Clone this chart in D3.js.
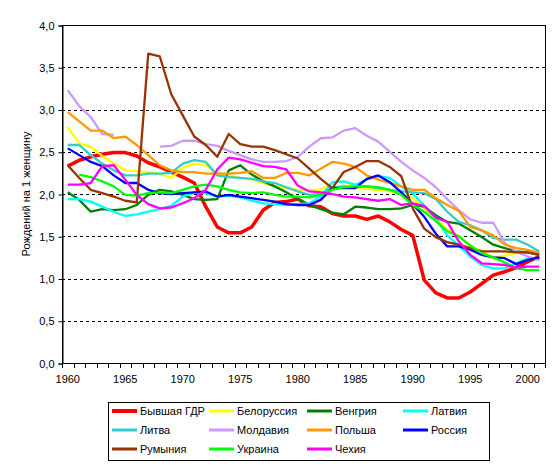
<!DOCTYPE html>
<html><head><meta charset="utf-8">
<script src="https://cdn.jsdelivr.net/npm/d3@7"></script>
<style>
body{margin:0;background:#fff;}
text{font-family:"Liberation Sans",Arial,sans-serif;font-size:11px;fill:#000;}
</style></head>
<body><svg id="c" width="560" height="469"></svg>
<script>
const years = [1960,1961,1962,1963,1964,1965,1966,1967,1968,1969,1970,1971,1972,1973,1974,1975,1976,1977,1978,1979,1980,1981,1982,1983,1984,1985,1986,1987,1988,1989,1990,1991,1992,1993,1994,1995,1996,1997,1998,1999,2000,2001];
const xLabels = [1960,1965,1970,1975,1980,1985,1990,1995,2000];
const yTicks = [0,0.5,1,1.5,2,2.5,3,3.5,4];
const seriesNames = ["Бывшая ГДР","Белоруссия","Венгрия","Латвия","Литва","Молдавия","Польша","Россия","Румыния","Украина","Чехия"];
const seriesColors = ["#FF0000","#FFFF00","#008000","#00FFFF","#33CCCC","#CC99FF","#FF9900","#0000FF","#993300","#00FF00","#FF00FF"];

const gdr = [2.33,2.40,2.44,2.47,2.49,2.49,2.45,2.37,2.32,2.26, 2.20,2.13,1.85,1.61,1.54,1.54,1.61,1.81,1.90,1.91, 1.94,1.86,1.85,1.77,1.74,1.74,1.70,1.74,1.67,1.58, 1.51,0.98,0.83,0.77,0.77,0.84,0.94,1.04,1.08,1.13, 1.20,1.26];
const belarus = [2.79,2.60,2.56,2.45,2.36,2.28,2.27,2.26,2.24,2.19, 2.31,2.36,2.34,2.24,2.22,2.19,2.17,2.13,2.09,2.07, 2.05,2.05,2.05,2.13,2.15,2.08,2.06,2.05,2.03,2.01, 1.95,1.83,1.72,1.58,1.50,1.39,1.32,1.25,1.27,1.30, 1.31,1.28];
const hungary = [2.02,1.93,1.79,1.82,1.81,1.82,1.87,1.99,2.05,2.03, 1.99,1.94,1.93,1.94,2.28,2.34,2.23,2.15,2.09,2.02, 1.94,1.87,1.82,1.78,1.76,1.85,1.84,1.82,1.82,1.83, 1.87,1.85,1.75,1.67,1.65,1.57,1.49,1.40,1.36,1.32, 1.31,1.28];
const latvia = [1.94,1.94,1.91,1.85,1.79,1.74,1.76,1.79,1.82,1.86, 1.97,2.02,2.01,1.97,1.98,1.96,1.92,1.89,1.88,1.87, 1.88,1.89,1.97,2.14,2.15,2.11,2.17,2.21,2.19,2.09, 2.01,1.86,1.71,1.51,1.39,1.26,1.16,1.12,1.12,1.18, 1.24,1.22];
const lithuania = [2.58,2.58,2.46,2.36,2.28,2.22,2.22,2.24,2.24,2.25, 2.36,2.40,2.38,2.22,2.20,2.19,2.18,2.15,2.13,2.08, 2.03,1.99,2.00,2.08,2.09,2.08,2.09,2.07,2.05,2.03, 2.02,2.01,1.94,1.79,1.67,1.63,1.57,1.48,1.46,1.46, 1.40,1.32];
const moldova = [3.23,3.04,2.91,2.71,2.70,null,null,null,2.56,2.57, 2.63,2.63,2.59,2.57,2.51,2.46,2.41,2.38,2.38,2.39, 2.44,2.56,2.66,2.67,2.75,2.78,2.69,2.62,2.50,2.38, 2.28,2.19,2.08,1.94,1.81,1.70,1.66,1.66,1.42,1.32, 1.26,1.22];
const poland = [2.97,2.86,2.75,2.75,2.66,2.68,2.58,2.46,2.34,2.28, 2.26,2.26,2.24,2.24,2.24,2.25,2.27,2.19,2.19,2.25, 2.25,2.22,2.30,2.38,2.36,2.32,2.22,2.17,2.13,2.09, 2.05,2.05,1.95,1.87,1.80,1.61,1.57,1.51,1.40,1.36, 1.34,1.30];
const russia = [2.54,2.46,2.38,2.33,2.22,2.13,2.13,2.05,2.01,2.00, 2.01,2.02,2.03,1.97,1.99,1.97,1.95,1.93,1.91,1.88, 1.87,1.87,1.93,2.07,2.07,2.07,2.18,2.22,2.14,2.02, 1.88,1.73,1.53,1.38,1.38,1.34,1.28,1.25,1.24,1.17, 1.22,1.25];
const romania = [2.34,2.19,2.05,2.01,1.97,1.92,1.90,3.66,3.63,3.18, 2.93,2.68,2.58,2.44,2.71,2.59,2.56,2.56,2.52,2.47, 2.42,2.30,2.18,2.07,2.26,2.32,2.39,2.39,2.32,2.21, 1.83,1.59,1.49,1.43,1.40,1.36,1.32,1.32,1.32,1.31, 1.31,1.28];
const ukraine = [null,2.23,2.20,2.15,2.09,1.99,1.98,2.01,2.02,2.01, 2.05,2.09,2.11,2.09,2.05,2.02,2.01,2.02,1.99,1.97, 1.97,1.96,1.99,2.05,2.08,2.09,2.09,2.08,2.05,1.99, 1.87,1.79,1.68,1.56,1.50,1.39,1.30,1.25,1.19,1.12, 1.10,1.10];
const czech = [2.11,2.11,2.13,2.33,2.34,2.17,1.99,1.88,1.83,1.84, 1.89,1.95,2.05,2.29,2.43,2.41,2.37,2.33,2.32,2.29, 2.10,2.03,2.02,2.00,1.97,1.96,1.94,1.92,1.94,1.87, 1.89,1.86,1.72,1.67,1.44,1.28,1.18,1.17,1.16,1.13, 1.14,1.14];

const seriesValues = [gdr,belarus,hungary,latvia,lithuania,moldova,poland,russia,romania,ukraine,czech];

const svg = d3.select("#c");
const L=62, R=545, T=25, B=363;
const x = d3.scaleBand().domain(years).range([L,R]).padding(0);
const y = d3.scaleLinear().domain([0,4]).range([B,T]);
const cx = yr => x(yr) + x.bandwidth()/2;

// gridlines
svg.append("g").selectAll("line").data(yTicks.filter(v=>v>0 && v<4)).join("line")
  .attr("x1",L).attr("x2",R).attr("y1",d=>Math.round(y(d))+0.5).attr("y2",d=>Math.round(y(d))+0.5)
  .attr("stroke","#000").attr("stroke-dasharray","3,3").attr("stroke-width",1);

// plot border
svg.append("rect").attr("x",L+0.5).attr("y",T+0.5).attr("width",R-L).attr("height",B-T)
  .attr("fill","none").attr("stroke","#000").attr("stroke-width",1);

// y axis
const yAxis = d3.axisLeft(y).tickValues(yTicks).tickSize(4).tickPadding(4)
  .tickFormat(d=>d.toFixed(1).replace(".",","));
const gy = svg.append("g").attr("transform",`translate(${L+0.5},0.5)`).call(yAxis);
gy.selectAll("text").style("font-family",'"Liberation Sans",Arial,sans-serif').style("font-size","11px").attr("fill","#000");
gy.selectAll("line,path").attr("stroke","#000");

// x axis: ticks at category boundaries
const boundaries = years.map(yr=>x(yr)).concat([R]);
svg.append("g").selectAll("line").data(boundaries).join("line")
  .attr("x1",d=>Math.round(d)+0.5).attr("x2",d=>Math.round(d)+0.5).attr("y1",B).attr("y2",B+5)
  .attr("stroke","#000");
svg.append("line").attr("x1",L).attr("x2",R+1).attr("y1",B+0.5).attr("y2",B+0.5).attr("stroke","#000");
const xAxis = d3.axisBottom(x).tickValues(xLabels).tickSize(0).tickPadding(12);
const gx = svg.append("g").attr("transform",`translate(0,${B})`).call(xAxis);
gx.select(".domain").remove();
gx.selectAll("text").style("font-family",'"Liberation Sans",Arial,sans-serif').style("font-size","11px").attr("fill","#000");

// y title
svg.append("text").attr("transform","translate(30,194) rotate(-90)").attr("text-anchor","middle")
  .text("Рождений на 1 женщину");

// lines
const line = d3.line().defined(d=>d.v!=null).x(d=>cx(d.yr)).y(d=>y(d.v));
seriesValues.forEach((vals,i)=>{
  const data = years.map((yr,j)=>({yr, v: vals[j]}));
  svg.append("path").datum(data).attr("d",line).attr("fill","none")
    .attr("stroke",seriesColors[i]).attr("stroke-width", i===0?3.5:2.3)
    .attr("stroke-linejoin","round");
});

// legend
const lg = svg.append("g");
lg.append("rect").attr("x",108.5).attr("y",402.5).attr("width",381).attr("height",58)
  .attr("fill","#fff").attr("stroke","#000");
const colX = [112,209,307,403], rowY = [411,430,449];
seriesNames.forEach((n,i)=>{
  const cxL = colX[i%4], cy = rowY[Math.floor(i/4)];
  lg.append("line").attr("x1",cxL).attr("x2",cxL+25).attr("y1",cy).attr("y2",cy)
    .attr("stroke",seriesColors[i]).attr("stroke-width", i===0?4:3);
  lg.append("text").attr("x",cxL+28).attr("y",cy+4).text(n);
});
</script></body></html>
